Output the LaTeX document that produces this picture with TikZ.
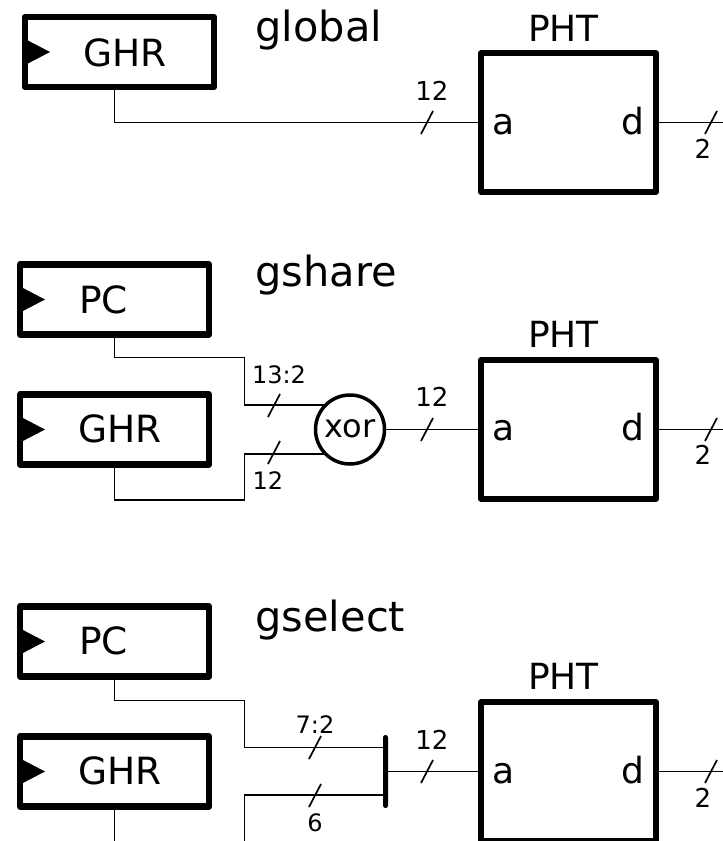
\documentclass[tikz,border=0pt]{standalone}
\usepackage{fontspec}
\setmainfont{DejaVu Sans}
\usepackage{tikz}
\usetikzlibrary{shapes.geometric, positioning}

\begin{document}
\begin{tikzpicture}[x=1pt,y=-1pt,every node/.style={outer sep=0pt,inner sep=0pt}]

\tikzstyle{reg}=[draw,line width=6.5pt,line join=round,minimum width=189pt,minimum height=70pt]
\tikzstyle{pht}=[draw,line width=5.5pt,line join=round,minimum width=175pt,minimum height=139pt]
\tikzstyle{gate}=[draw,circle,line width=3.5pt,minimum size=69pt,font=\fontsize{32}{34}\selectfont]
\tikzstyle{wire}=[line width=1.8pt]
\tikzstyle{slash}=[line width=1.7pt]
\tikzstyle{kind}=[anchor=base west,font=\fontsize{41.5}{44}\selectfont]
\tikzstyle{regname}=[anchor=base west,font=\fontsize{37.5}{40}\selectfont]
\tikzstyle{port}=[anchor=base,font=\fontsize{36}{40}\selectfont]
\tikzstyle{buswidth}=[anchor=base,font=\fontsize{26}{28}\selectfont]
\tikzstyle{buswidthsmall}=[anchor=base,font=\fontsize{24}{26}\selectfont]

\path [use as bounding box, clip] (0,0) rectangle (723,841);

% global
\node (ghrA) [reg] at (119.5,52) {};
\node (ghrAname) [regname] at (83,66) {GHR};
\fill (ghrA.west) ++(0,-13) -- ++(25,13) -- ++(-25,13) -- cycle;
\node (kindA) [kind] at (255.5,41.5) {global};
\node (phtA) [pht] at (568.5,122.5) {};
\node (phtAname) [port] at (563.5,41) {PHT};
\node (phtAa) [port] at (504,134) {a};
\node (phtAd) [port] at (633,134) {d};
\coordinate (outA) at (723,122.5);
\draw [wire] ([xshift=-5pt]ghrA.south) |- (phtA.west);
\draw [wire] (phtA.east) -- (outA);
\draw [slash] (421,134) -- +(12,-23);
\draw [slash] (705,134) -- +(12,-23);
\node (wA) [buswidth] at (432,100) {12};
\node (dA) [buswidth] at (703,158) {2};

% gshare
\node (pcB) [reg] at (114.5,299.5) {};
\node (pcBname) [regname] at (79,313) {PC};
\fill (pcB.west) ++(0,-13) -- ++(25,13) -- ++(-25,13) -- cycle;
\node (ghrB) [reg] at (114.5,429.5) {};
\node (ghrBname) [regname] at (78.5,442) {GHR};
\fill (ghrB.west) ++(0,-13) -- ++(25,13) -- ++(-25,13) -- cycle;
\node (kindB) [kind] at (255.5,286) {gshare};
\node (xorB) [gate] at (350,429.5) {\raisebox{2pt}{xor}};
\node (phtB) [pht] at (568.5,429.5) {};
\node (phtBname) [port] at (563.5,347) {PHT};
\node (phtBa) [port] at (504,440) {a};
\node (phtBd) [port] at (633,440) {d};
\coordinate (outB) at (723,429.5);
\draw [wire] (pcB.south) -- ++(0,23) -- ++(130,0) |- (xorB.135);
\draw [wire] (ghrB.south) -- ++(0,35.5) -- ++(130,0) |- (xorB.225);
\draw [wire] (xorB.east) -- (phtB.west);
\draw [wire] (phtB.east) -- (outB);
\draw [slash] (268,417) -- +(12,-23);
\draw [slash] (268,464) -- +(12,-23);
\draw [slash] (421,441) -- +(12,-23);
\draw [slash] (705,441) -- +(12,-23);
\node (wBpc) [buswidthsmall] at (279,383) {13:2};
\node (wBghr) [buswidthsmall] at (268,489) {12};
\node (wB) [buswidth] at (432,406) {12};
\node (dB) [buswidth] at (703,464) {2};

% gselect
\node (pcC) [reg] at (114.5,641.5) {};
\node (pcCname) [regname] at (79,654) {PC};
\fill (pcC.west) ++(0,-13) -- ++(25,13) -- ++(-25,13) -- cycle;
\node (ghrC) [reg] at (114.5,771.5) {};
\node (ghrCname) [regname] at (78.5,784) {GHR};
\fill (ghrC.west) ++(0,-13) -- ++(25,13) -- ++(-25,13) -- cycle;
\node (kindC) [kind] at (255.5,631) {gselect};
\node (barC) [draw,fill,rounded corners=2pt,line width=1pt,minimum width=4pt,minimum height=72pt] at (385.5,771.5) {};
\node (phtC) [pht] at (568.5,771.5) {};
\node (phtCname) [port] at (563.5,689) {PHT};
\node (phtCa) [port] at (504,783) {a};
\node (phtCd) [port] at (633,783) {d};
\coordinate (outC) at (723,771.5);
\coordinate (ghrCend) at (114.5,845);
\coordinate (ghrCbus) at (244.5,845);
\draw [wire] (pcC.south) -- ++(0,24) -- ++(130,0) |- ([yshift=24pt]barC.west);
\draw [wire] (ghrC.south) -- (ghrCend);
\draw [wire] (ghrCbus) |- ([yshift=-23.5pt]barC.west);
\draw [wire] (barC.east) -- (phtC.west);
\draw [wire] (phtC.east) -- (outC);
\draw [slash] (309,759) -- +(12,-23);
\draw [slash] (309,807) -- +(12,-23);
\draw [slash] (421,783) -- +(12,-23);
\draw [slash] (705,783) -- +(12,-23);
\node (wCpc) [buswidthsmall] at (315,733) {7:2};
\node (wCghr) [buswidthsmall] at (315,831) {6};
\node (wC) [buswidth] at (432,749) {12};
\node (dC) [buswidth] at (703,807) {2};

\end{tikzpicture}
\end{document}
